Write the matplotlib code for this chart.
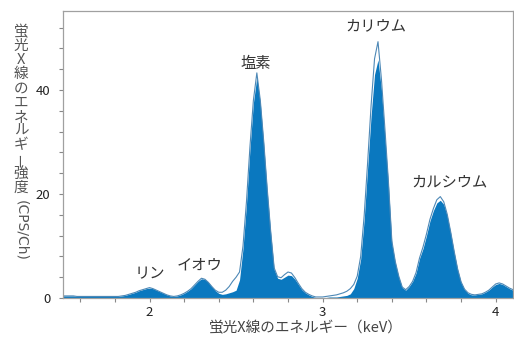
import numpy as np
import matplotlib.pyplot as plt
from matplotlib.ticker import MultipleLocator

plt.rcParams['font.family'] = ['Noto Sans CJK JP', 'DejaVu Sans']

# channel energies (keV), 0.02 keV step
energy = np.linspace(1.5, 4.1, 131)

# measured spectrum (filled)
counts_a = [
    0.4, 0.4, 0.4, 0.4, 0.3, 0.3, 0.3, 0.3, 0.3, 0.3,
    0.3, 0.3, 0.3, 0.3, 0.3, 0.3, 0.3, 0.4, 0.5, 0.7,
    0.9, 1.1, 1.4, 1.6, 1.8, 1.9, 1.8, 1.5, 1.2, 0.9,
    0.6, 0.4, 0.3, 0.4, 0.6, 0.9, 1.3, 1.8, 2.5, 3.2,
    3.7, 3.6, 3.0, 2.2, 1.4, 0.9, 0.7, 0.8, 1.0, 1.2,
    1.5, 3.5, 9.5, 18.0, 28.5, 37.5, 42.5, 37.5, 29.5, 20.5,
    12.5, 5.5, 3.8, 3.6, 4.0, 4.4, 4.3, 3.6, 2.6, 1.6,
    1.0, 0.6, 0.3, 0.1, 0.1, 0.1, 0.1, 0.2, 0.2, 0.2,
    0.3, 0.4, 0.5, 0.8, 1.8, 3.8, 7.5, 15.0, 25.0, 35.0,
    43.0, 45.8, 40.0, 31.0, 22.0, 10.5, 6.8, 4.0, 2.0, 1.5,
    2.2, 3.2, 4.8, 7.6, 9.5, 12.0, 14.8, 16.8, 18.3, 18.8,
    18.0, 15.8, 12.5, 8.8, 5.5, 3.0, 1.6, 0.9, 0.6, 0.6,
    0.7, 0.8, 1.1, 1.5, 2.1, 2.6, 2.8, 2.6, 2.2, 1.8,
    1.5,
]

# second spectrum (outline)
counts_b = [
    0.4, 0.4, 0.4, 0.4, 0.3, 0.3, 0.3, 0.3, 0.3, 0.3,
    0.3, 0.3, 0.3, 0.3, 0.3, 0.3, 0.3, 0.4, 0.5, 0.7,
    0.9, 1.1, 1.4, 1.6, 1.8, 2.0, 1.8, 1.5, 1.2, 0.9,
    0.6, 0.4, 0.3, 0.4, 0.6, 0.9, 1.3, 1.8, 2.5, 3.2,
    3.8, 3.6, 3.0, 2.2, 1.5, 1.1, 1.1, 1.5, 2.2, 3.2,
    4.0, 5.0, 10.0, 18.5, 29.0, 38.0, 43.3, 38.0, 30.0, 21.0,
    12.8, 5.8, 4.1, 3.9, 4.5, 5.0, 4.8, 3.9, 2.8, 1.8,
    1.1, 0.7, 0.4, 0.2, 0.2, 0.2, 0.3, 0.4, 0.5, 0.6,
    0.8, 1.0, 1.3, 1.8, 2.6, 4.2, 8.0, 15.8, 26.0, 37.0,
    46.0, 49.3, 42.0, 32.5, 22.5, 11.0, 7.0, 4.2, 2.1, 1.6,
    2.2, 3.2, 4.9, 7.7, 9.8, 12.3, 15.1, 17.2, 18.9, 19.5,
    18.5, 16.1, 12.7, 9.0, 5.6, 3.1, 1.7, 1.0, 0.7, 0.6,
    0.7, 0.8, 1.1, 1.5, 2.1, 2.7, 2.9, 2.7, 2.3, 1.9,
    1.6,
]

# element labels and their positions (keV, counts)
elements = ['リン', 'イオウ', '塩素', 'カリウム', 'カルシウム']
label_x = [2.0, 2.29, 2.613, 3.305, 3.734]
label_y = [4.7, 6.3, 45.1, 52.3, 22.4]

W, H = 514, 338
fig = plt.figure(figsize=(W / 100, H / 100), dpi=100)
ax = fig.add_axes([63 / W, 1 - 298 / H, 450 / W, 287 / H])

ax.fill_between(energy, counts_a, 0, color='#0a78bf', linewidth=0)
ax.plot(energy, counts_b, color='#4d88b6', linewidth=0.8)

for name, x, y in zip(elements, label_x, label_y):
    ax.text(x, y, name, ha='center', va='center', fontsize=11, color='#333333')

ax.set_xlim(1.5, 4.1)
ax.set_ylim(0, 55.2)
ax.set_xticks([2, 3, 4])
ax.set_yticks([0, 20, 40])
ax.xaxis.set_minor_locator(MultipleLocator(0.2))
ax.yaxis.set_minor_locator(MultipleLocator(4))
ax.tick_params(which='both', length=3, width=0.8, color='#888888',
               labelsize=9.5, labelcolor='#222222')
ax.tick_params(axis='y', pad=6)
ax.tick_params(axis='x', pad=3)
for s in ax.spines.values():
    s.set_color('#a0a0a0')
    s.set_linewidth(0.9)

fig.text(306 / W, 1 - 328 / H, '蛍光X線のエネルギー（keV）', ha='center', va='center',
         fontsize=10.5, color='#444444')

# vertical (tategaki) y-axis label
chars = '蛍光X線のエネルギー強度'
for i, ch in enumerate(chars):
    yp = 31.7 + i * 14.2
    rot = 90 if ch == 'ー' else 0
    fig.text(21 / W, 1 - yp / H, ch, ha='center', va='center', fontsize=10.5,
             color='#555555', rotation=rot)
fig.text(21 / W, 1 - 230 / H, '(CPS/Ch)', ha='center', va='center',
         fontsize=10, color='#555555', rotation=-90, family='DejaVu Sans')

fig.savefig('out.png', dpi=100)
